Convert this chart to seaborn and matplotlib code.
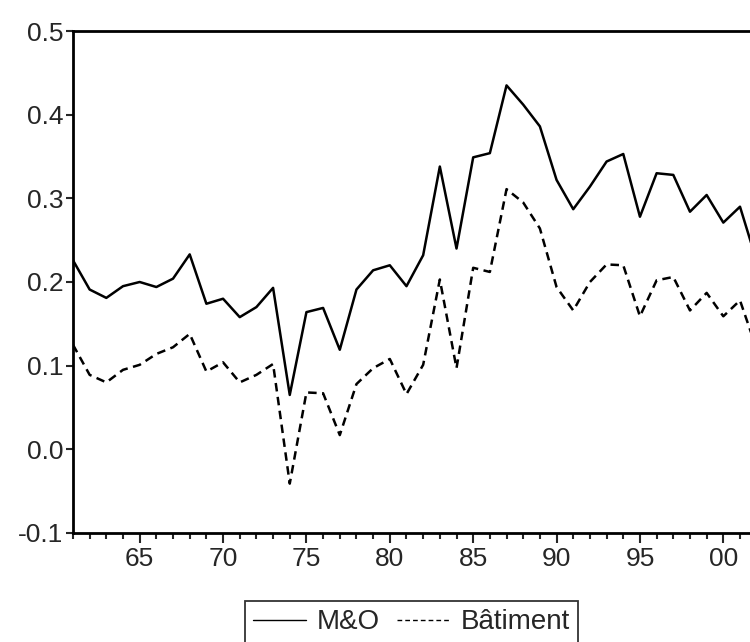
import pandas as pd
import matplotlib.pyplot as plt
from matplotlib.ticker import MultipleLocator, FuncFormatter
import seaborn as sns

years = list(range(1961, 2003))

# M&O (solid) and Bâtiment (dashed)
mo = [0.226, 0.191, 0.181, 0.195, 0.200, 0.194, 0.204, 0.233, 0.174, 0.180,
      0.158, 0.170, 0.193, 0.065, 0.164, 0.169, 0.119, 0.191, 0.214, 0.220,
      0.195, 0.232, 0.338, 0.240, 0.349, 0.354, 0.435, 0.412, 0.386, 0.322,
      0.287, 0.314, 0.344, 0.353, 0.278, 0.330, 0.328, 0.284, 0.304, 0.271,
      0.290, 0.225]
batiment = [0.125, 0.089, 0.080, 0.095, 0.101, 0.114, 0.122, 0.138, 0.093, 0.104,
            0.080, 0.089, 0.102, -0.041, 0.068, 0.067, 0.017, 0.078, 0.097, 0.108,
            0.066, 0.101, 0.203, 0.097, 0.217, 0.212, 0.311, 0.295, 0.264, 0.194,
            0.166, 0.200, 0.221, 0.220, 0.159, 0.202, 0.206, 0.166, 0.187, 0.159,
            0.178, 0.120]

df = pd.DataFrame({"year": years, "M&O": mo, "Bâtiment": batiment})

sns.set_style("white")
plt.rcParams['font.family'] = ['Liberation Sans', 'DejaVu Sans']

fig = plt.figure(figsize=(7.5, 6.42), dpi=100)
ax = fig.add_axes([0.0973, 0.1698, 0.9027, 0.7819])

sns.lineplot(data=df, x="year", y="M&O", ax=ax, color="black", linewidth=1.8, label="M&O")
sns.lineplot(data=df, x="year", y="Bâtiment", ax=ax, color="black", linewidth=1.8,
             linestyle=(0, (3.4, 2.2)), label="Bâtiment")

ax.set_xlim(1961, 2001.6)
ax.set_ylim(-0.1, 0.5)
ax.set_xlabel("")
ax.set_ylabel("")

# axis frame: left, bottom, top; right edge is cut off
for side in ["left", "bottom", "top"]:
    ax.spines[side].set_visible(True)
    ax.spines[side].set_linewidth(2)
    ax.spines[side].set_color("black")
ax.spines["right"].set_visible(False)

ax.xaxis.set_major_locator(MultipleLocator(5))
ax.xaxis.set_minor_locator(MultipleLocator(1))
ax.xaxis.set_major_formatter(FuncFormatter(lambda v, p: f"{int(round(v)) % 100:02d}"))
ax.yaxis.set_major_locator(MultipleLocator(0.1))
ax.yaxis.set_major_formatter(FuncFormatter(lambda v, p: f"{v:.1f}"))

ax.tick_params(axis="x", which="major", direction="out", length=7, width=1.5,
               labelsize=19, pad=3, bottom=True, top=False)
ax.tick_params(axis="x", which="minor", direction="out", length=4, width=1.5,
               bottom=True, top=False)
ax.tick_params(axis="y", which="major", direction="out", length=5, width=1.5,
               labelsize=19, pad=2, left=True, right=False)

handles, labels = ax.get_legend_handles_labels()
ax.get_legend().remove()
leg = fig.legend(handles, labels, loc="upper left", bbox_to_anchor=(245 / 750, 1 - 601 / 642),
                 ncol=2, frameon=True, fancybox=False, fontsize=20, handlelength=1.9,
                 columnspacing=0.6, handletextpad=0.4, borderpad=0.3, borderaxespad=0)
leg.get_frame().set_edgecolor("black")
leg.get_frame().set_linewidth(1.3)
for line in leg.get_lines():
    line.set_linewidth(1.0)

fig.savefig("out.png", dpi=100)
